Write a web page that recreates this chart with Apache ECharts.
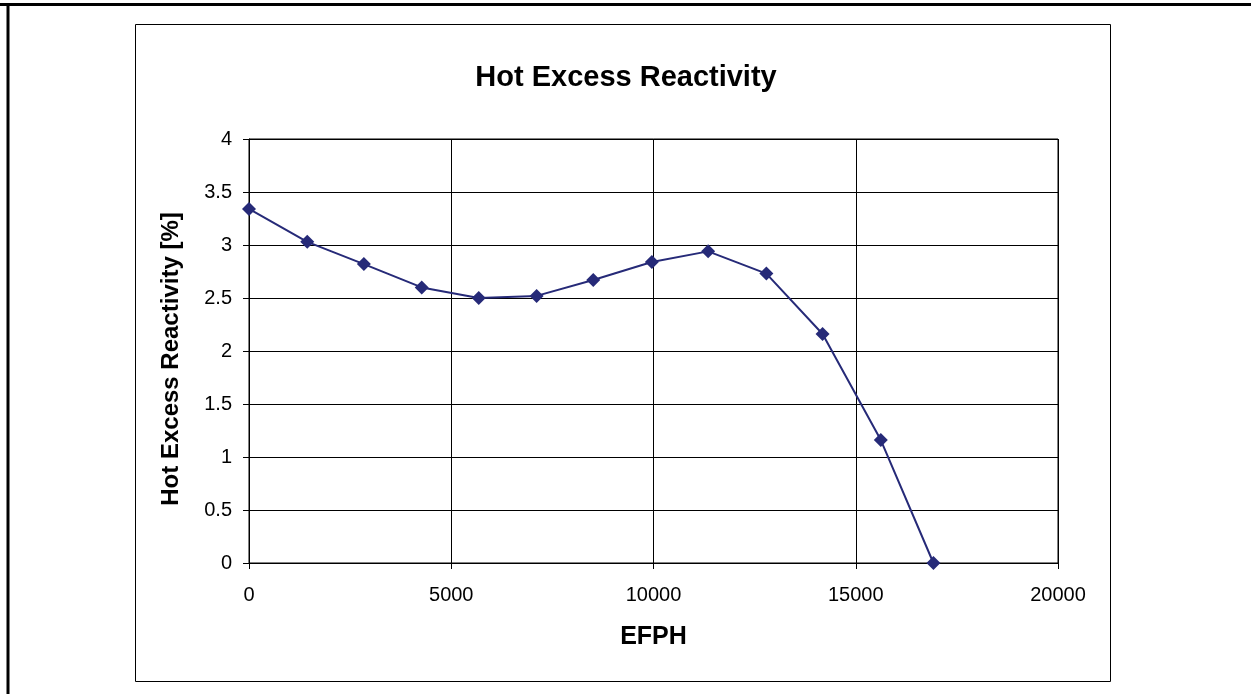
<!DOCTYPE html>
<html>
<head>
<meta charset="utf-8">
<script src="https://cdn.jsdelivr.net/npm/echarts@6/dist/echarts.min.js"></script>
<style>
html,body{margin:0;padding:0;background:#fff;}
#c{width:1251px;height:694px;}
</style>
</head>
<body>
<div id="c"></div>
<script>
const efph = [0, 1440, 2840, 4270, 5680, 7110, 8510, 9960, 11350, 12790, 14180, 15620, 16920];
const reactivity = [3.34, 3.03, 2.82, 2.60, 2.50, 2.52, 2.67, 2.84, 2.94, 2.73, 2.16, 1.16, 0];
const xTicks = [0, 5000, 10000, 15000, 20000];
const yTicks = [0, 0.5, 1, 1.5, 2, 2.5, 3, 3.5, 4];

const chart = echarts.init(document.getElementById('c'), null, {renderer: 'canvas'});
const font = '"Liberation Sans", Arial, sans-serif';
chart.setOption({
  animation: false,
  backgroundColor: '#fff',
  title: {
    text: 'Hot Excess Reactivity',
    left: 621, top: 58, textAlign: 'center',
    textStyle: {fontFamily: font, fontSize: 29, fontWeight: 'bold', color: '#000'}
  },
  graphic: [
    {type: 'line', shape: {x1: 0, y1: 4.5, x2: 1251, y2: 4.5}, style: {stroke: '#000', lineWidth: 3}},
    {type: 'line', shape: {x1: 8, y1: 3, x2: 8, y2: 694}, style: {stroke: '#000', lineWidth: 3}},
    {type: 'rect', shape: {x: 135.5, y: 24.5, width: 975, height: 657}, style: {fill: 'none', stroke: '#000', lineWidth: 1}, z: -1}
  ],
  grid: {left: 249, top: 139, right: 193, bottom: 131, show: true, borderColor: '#000', borderWidth: 1},
  xAxis: {
    type: 'value', min: 0, max: 20000, interval: 5000,
    name: 'EFPH', nameLocation: 'middle', nameGap: 62,
    nameTextStyle: {fontFamily: font, fontSize: 25, fontWeight: 'bold', color: '#000'},
    axisLine: {show: true, lineStyle: {color: '#000', width: 1}},
    axisTick: {show: true, length: 6, inside: false, lineStyle: {color: '#000'}},
    axisLabel: {fontFamily: font, fontSize: 20, color: '#000', margin: 22,
      formatter: v => xTicks.includes(v) ? String(v) : ''},
    splitLine: {show: true, lineStyle: {color: '#000', width: 1}}
  },
  yAxis: {
    type: 'value', min: 0, max: 4, interval: 0.5,
    name: 'Hot Excess Reactivity [%]', nameLocation: 'middle', nameGap: 66, nameRotate: 90,
    nameTextStyle: {fontFamily: font, fontSize: 24, fontWeight: 'bold', color: '#000', padding: [0, 16, 0, 0]},
    axisLine: {show: true, lineStyle: {color: '#000', width: 1}},
    axisTick: {show: true, length: 6, inside: false, lineStyle: {color: '#000'}},
    axisLabel: {fontFamily: font, fontSize: 20, color: '#000', margin: 17,
      formatter: v => yTicks.includes(v) ? String(v) : ''},
    splitLine: {show: true, lineStyle: {color: '#000', width: 1}}
  },
  series: [{
    type: 'line',
    data: efph.map((x, i) => [x, reactivity[i]]),
    symbol: 'diamond', symbolSize: 14,
    itemStyle: {color: '#262A78'},
    lineStyle: {color: '#262A78', width: 2},
    clip: false
  }]
});
</script>
</body>
</html>
